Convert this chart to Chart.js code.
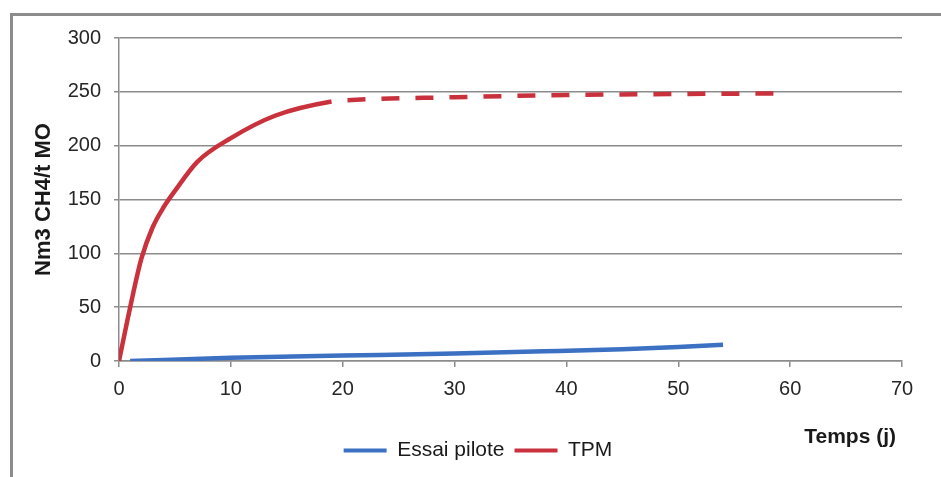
<!DOCTYPE html>
<html>
<head>
<meta charset="utf-8">
<script src="https://cdn.jsdelivr.net/npm/chart.js@4"></script>
<style>
    html, body { margin: 0; padding: 0; background: #fff; }
    #frame { position: absolute; left: 10px; top: 13px; right: 0; bottom: 0;
             border-left: 3px solid #8c8c8c; border-top: 3px solid #8c8c8c; }
    #wrap { position: absolute; left: 0; top: 0; width: 941px; height: 477px; }
</style>
</head>
<body>
<div id="frame"></div>
<div id="wrap"><canvas id="lineChart"></canvas></div>
<script>
const piloteDays = [1, 10, 20, 30, 38, 45, 50, 54];
const piloteValues = [0, 3, 5, 7, 9, 11, 13, 15];
const tpmDays = [0, 1, 2, 3, 4, 5, 7, 10, 14, 19, 20, 30, 40, 50, 59];
const tpmValues = [0, 50, 95, 124, 143, 158, 185, 207, 228, 241, 242, 245, 247, 248, 248.5];
const dashFrom = 19;
const yTicks = [0, 50, 100, 150, 200, 250, 300];
const xTicks = [0, 10, 20, 30, 40, 50, 60, 70];

const toPoints = (xs, ys) => xs.map((x, i) => ({ x: x, y: ys[i] }));

// "Temps (j)" sits right of the legend, below the axis labels
const axisLabel = {
    id: 'axisLabel',
    afterDraw(chart) {
        const ctx = chart.ctx;
        ctx.save();
        ctx.font = 'bold 21px "Liberation Sans", Arial, sans-serif';
        ctx.fillStyle = '#1a1a1a';
        ctx.textAlign = 'right';
        ctx.textBaseline = 'middle';
        ctx.fillText('Temps (j)', chart.chartArea.right - 6, chart.chartArea.bottom + 76);
        ctx.restore();
    }
};

document.addEventListener('DOMContentLoaded', function() {
    const ctx = document.getElementById('lineChart').getContext('2d');
    new Chart(ctx, {
        type: 'line',
        data: {
            datasets: [{
                label: 'Essai pilote',
                data: toPoints(piloteDays, piloteValues),
                borderColor: '#3b70c2',
                backgroundColor: '#3b70c2',
                borderWidth: 4.5,
                pointRadius: 0,
                cubicInterpolationMode: 'monotone'
            }, {
                label: 'TPM',
                data: toPoints(tpmDays, tpmValues),
                borderColor: '#c9323c',
                backgroundColor: '#c9323c',
                borderWidth: 4.5,
                pointRadius: 0,
                cubicInterpolationMode: 'monotone',
                segment: {
                    borderDash: c => c.p0.parsed.x >= dashFrom ? [18, 16] : undefined,
                    borderDashOffset: c => c.p0.parsed.x >= dashFrom ? 18 : 0
                }
            }]
        },
        options: {
            responsive: true,
            maintainAspectRatio: false,
            animation: false,
            layout: { padding: { left: 54, right: 39, top: 38, bottom: 6 } },
            scales: {
                x: {
                    type: 'linear',
                    min: 0, max: 70,
                    afterBuildTicks: s => { s.ticks = xTicks.map(v => ({ value: v })); },
                    afterFit: s => { s.height = 69; },
                    grid: { drawOnChartArea: false, drawTicks: true, tickLength: 6, color: '#8c8c8c', lineWidth: 1.5 },
                    border: { color: '#8c8c8c', width: 1.5 },
                    ticks: { color: '#262626', padding: 10, maxRotation: 0,
                             font: { family: '"Liberation Sans", Arial, sans-serif', size: 20 } }
                },
                y: {
                    min: 0, max: 300,
                    afterBuildTicks: s => { s.ticks = yTicks.map(v => ({ value: v })); },
                    afterFit: s => { s.width = 65; },
                    grid: { color: '#8c8c8c', lineWidth: 1.5, tickLength: 5 },
                    border: { color: '#8c8c8c', width: 1.5 },
                    ticks: { color: '#262626', padding: 13,
                             font: { family: '"Liberation Sans", Arial, sans-serif', size: 20 } },
                    title: {
                        display: true,
                        text: 'Nm3 CH4/t MO',
                        color: '#1a1a1a',
                        padding: { top: -23, bottom: 0 },
                        font: { family: '"Liberation Sans", Arial, sans-serif', size: 22, weight: 'bold' }
                    }
                }
            },
            plugins: {
                legend: {
                    position: 'bottom',
                    labels: {
                        color: '#1a1a1a',
                        boxWidth: 43,
                        boxHeight: 4,
                        padding: 10,
                        font: { family: '"Liberation Sans", Arial, sans-serif', size: 21 },
                        generateLabels: chart => chart.data.datasets.map((d, i) => ({
                            text: d.label,
                            fillStyle: d.borderColor,
                            strokeStyle: d.borderColor,
                            lineWidth: 0,
                            fontColor: '#1a1a1a',
                            datasetIndex: i,
                            hidden: false
                        }))
                    }
                },
                tooltip: { enabled: false }
            }
        },
        plugins: [axisLabel]
    });
});
</script>
</body>
</html>
